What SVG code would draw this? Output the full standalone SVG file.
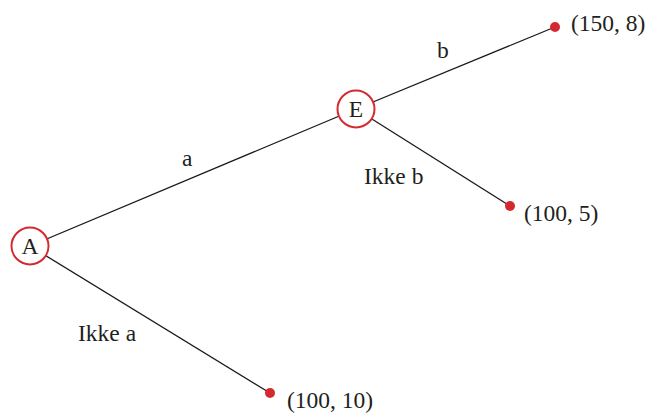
<svg xmlns="http://www.w3.org/2000/svg" width="651" height="420" viewBox="0 0 651 420">
<style>
.edge{stroke:#1a1a1a;stroke-width:1.3;fill:none}
.node{fill:#fff;stroke:#d42a2f;stroke-width:2}
.dot{fill:#d42a2f}
.t{font-family:'Liberation Serif','Times New Roman',Times,serif;font-size:23.5px;fill:#231f20}
</style>
<rect width="651" height="420" fill="#fff"/>
<g id="connectors">
<line class="edge" x1="30" y1="246" x2="356" y2="109"/>
<line class="edge" x1="356" y1="109" x2="555" y2="27"/>
<line class="edge" x1="356" y1="109" x2="510" y2="206"/>
<line class="edge" x1="30" y1="246" x2="270" y2="393"/>
</g>
<g id="label-a"><text class="t" x="182" y="166">a</text></g>
<g id="label-b"><text class="t" x="437" y="58">b</text></g>
<g id="label-ikke-b"><text class="t" x="364" y="184">Ikke b</text></g>
<g id="label-ikke-a"><text class="t" x="78" y="341">Ikke a</text></g>
<g id="node-A"><circle class="node" cx="30" cy="246" r="18.5"/><text class="t" x="30" y="254" text-anchor="middle">A</text></g>
<g id="node-E"><circle class="node" cx="356" cy="109" r="18.5"/><text class="t" x="356" y="117" text-anchor="middle">E</text></g>
<g id="leaf-150-8"><circle class="dot" cx="555" cy="27" r="5"/><text class="t" x="571" y="31">(150, 8)</text></g>
<g id="leaf-100-5"><circle class="dot" cx="510" cy="206" r="5"/><text class="t" x="524" y="221">(100, 5)</text></g>
<g id="leaf-100-10"><circle class="dot" cx="270" cy="393" r="5"/><text class="t" x="287" y="408">(100, 10)</text></g>
</svg>
